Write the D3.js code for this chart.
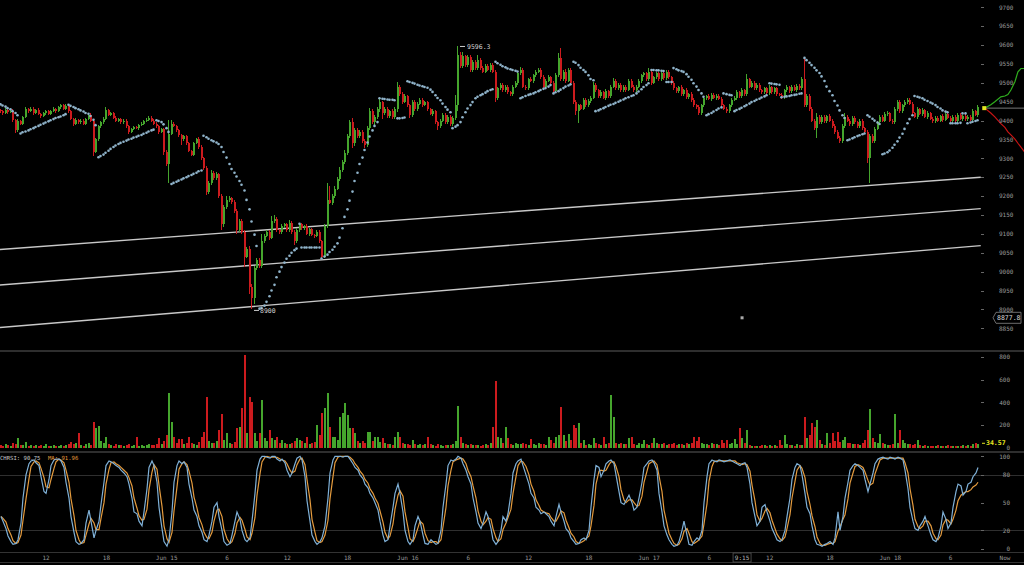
<!DOCTYPE html>
<html><head><meta charset="utf-8">
<script src="https://cdn.jsdelivr.net/npm/d3@7"></script>
<style>html,body{margin:0;padding:0;background:#000;overflow:hidden}svg{display:block}</style>
</head><body><svg id="c" width="1024" height="565"></svg>
<script>
const firstCandle = new Date(2020,5,14,7,30);
const candleMinutes = 15;
const openFirst = 9428;
const closes = [
9425,9420,9428,9422,9426,9402,9375,9398,9392,9410,
9430,9425,9432,9420,9428,9418,9412,9420,9425,9418,
9426,9430,9425,9435,9440,9432,9438,9425,9405,9392,
9402,9395,9400,9392,9405,9415,9398,9318,9350,9385,
9395,9405,9428,9415,9420,9408,9400,9404,9395,9400,
9385,9370,9378,9383,9380,9388,9392,9398,9402,9408,
9400,9392,9385,9370,9378,9318,9285,9365,9392,9385,
9375,9362,9350,9358,9340,9320,9310,9340,9352,9330,
9300,9275,9210,9235,9262,9248,9258,9200,9125,9170,
9190,9195,9185,9160,9110,9135,9105,9040,9060,8960,
8930,9010,9030,9015,9080,9095,9105,9090,9135,9140,
9110,9105,9120,9125,9110,9130,9105,9080,9110,9125,
9115,9120,9100,9112,9098,9095,9105,9080,9040,9120,
9190,9183,9200,9220,9245,9270,9290,9315,9360,9395,
9340,9375,9360,9370,9345,9335,9380,9425,9395,9410,
9430,9448,9420,9432,9412,9425,9410,9430,9490,9470,
9450,9465,9440,9415,9450,9430,9445,9455,9442,9448,
9430,9418,9425,9395,9385,9400,9415,9395,9410,9392,
9408,9440,9575,9545,9570,9548,9568,9535,9555,9540,
9560,9540,9530,9545,9535,9548,9530,9460,9485,9495,
9480,9490,9475,9470,9490,9500,9525,9535,9490,9485,
9510,9505,9520,9530,9535,9515,9490,9505,9515,9500,
9478,9520,9565,9510,9530,9505,9535,9500,9450,9425,
9440,9432,9455,9440,9452,9460,9495,9480,9465,9475,
9460,9478,9465,9490,9505,9485,9495,9480,9490,9482,
9505,9490,9480,9490,9505,9520,9525,9510,9530,9500,
9515,9525,9510,9525,9512,9530,9515,9500,9485,9478,
9488,9470,9480,9462,9470,9455,9440,9435,9420,9440,
9460,9465,9458,9468,9460,9466,9458,9440,9432,9425,
9440,9455,9460,9475,9465,9480,9470,9510,9490,9500,
9485,9495,9480,9475,9485,9472,9488,9475,9485,9470,
9468,9462,9480,9488,9478,9490,9482,9492,9485,9510,
9440,9465,9430,9400,9380,9410,9395,9410,9398,9412,
9400,9385,9370,9355,9345,9385,9410,9400,9390,9408,
9395,9385,9400,9380,9370,9300,9360,9345,9378,9395,
9410,9400,9418,9420,9400,9395,9430,9450,9425,9440,
9450,9455,9445,9420,9410,9430,9418,9428,9410,9420,
9405,9398,9408,9400,9412,9402,9418,9408,9400,9410,
9398,9415,9405,9412,9404,9410,9402,9425,9415,9435];
const wickHi = [
4,3,5,3,6,4,3,5,4,3, 5,3,4,4,3,5,3,4,3,4, 3,5,4,4,3,4,5,3,4,3, 4,3,3,4,3,2,4,3,5,4,
3,4,7,3,4,3,4,3,3,4, 3,4,3,4,3,4,3,3,4,4, 3,4,3,4,3,3,4,36,10,4, 3,4,3,5,3,4,3,4,3,4,
5,4,5,4,8,4,5,4,5,6, 10,5,4,6,5,4,5,6,5,8, 6,5,5,6,20,5,5,5,13,9, 5,4,5,4,4,8,5,4,5,3,
4,4,5,4,4,3,4,4,5,6, 44,38,5,6,5,6,5,6,5,6, 11,5,6,4,5,6,5,8,6,5, 5,11,4,4,5,4,5,5,12,5,
5,5,4,5,5,4,5,4,5,4, 5,4,5,4,5,4,5,4,4,5, 5,27,21.3,6,12,5,5,6,5,6, 14,5,5,4,6,5,5,5,5,5,
5,4,5,4,5,4,5,6,5,4, 4,5,4,5,3,4,5,4,5,4, 4,5,13,27,5,6,5,4,5,5, 5,4,5,4,5,4,7,5,4,5,
4,5,4,5,7,4,5,4,5,4, 5,4,5,4,5,4,5,4,8,4, 4,5,4,5,4,5,4,4,5,4, 4,5,4,5,4,5,4,4,5,4,
4,4,5,4,5,4,4,5,4,5, 4,5,4,5,4,5,4,13,4,5, 4,5,4,4,5,4,5,4,5,4, 4,5,4,5,4,5,4,5,4,5,
56,5,6,5,4,10,5,4,5,4, 5,4,5,4,4,5,9,4,5,4, 5,4,5,4,4,4,5,4,5,4, 4,5,4,5,4,4,5,4,5,4,
5,4,4,5,4,5,4,5,4,5, 4,5,4,5,4,5,4,5,4,5, 4,5,4,4,5,4,4,5,4,6];
const wickLo = [
4,5,3,4,3,5,9,4,3,4, 3,4,3,5,3,4,4,3,4,3, 4,3,4,3,5,3,4,4,3,5, 3,4,3,4,3,4,3,13,5,4,
4,3,4,3,4,3,4,4,3,4, 4,5,3,4,3,4,3,4,3,4, 4,3,4,5,3,8,5,51,4,3, 4,5,15,3,5,4,5,4,3,5,
5,5,7,4,5,4,5,5,15,6, 4,5,5,6,10,5,6,29,5,18, 30,15,5,6,5,5,4,5,4,5, 5,4,5,4,5,4,5,10,4,5,
4,5,4,5,4,5,4,5,5,5, 5,5,6,5,5,6,5,6,5,6, 12,6,5,6,5,7,5,6,5,6, 5,6,15,5,4,5,7,5,6,5,
5,4,5,7,5,4,5,4,5,4, 5,4,5,5,10,5,4,5,4,7, 5,6,15,5,6,5,5,6,5,5, 5,5,4,5,4,5,4,11,5,4,
5,4,5,4,5,4,5,4,5,4, 5,4,5,4,5,5,4,5,4,5, 5,4,5,5,4,5,4,5,5,11, 32,5,4,5,4,5,4,5,4,5,
4,5,4,5,4,5,4,5,4,5, 4,5,4,5,4,5,4,5,4,5, 4,5,4,5,4,5,4,5,4,5, 4,5,4,5,4,5,4,5,6,4,
4,5,4,5,4,5,4,5,4,5, 4,5,4,5,4,5,4,5,4,5, 4,5,4,5,4,5,4,5,4,5, 4,5,4,5,4,5,4,5,4,5,
5,4,5,5,6,25,5,4,5,4, 5,4,5,5,5,4,5,4,5,4, 4,5,4,5,4,11,66,4,5,4, 4,5,4,5,4,5,4,5,4,5,
4,5,4,5,4,5,4,5,4,5, 4,5,4,5,4,5,4,5,4,5, 4,5,4,5,4,5,4,5,4,5];
const volumes = [
25,18,30,22,15,40,35,88,28,20, 53,18,25,15,22,12,20,18,30,14, 16,22,12,18,25,15,20,30,47,35,
40,132,22,18,30,45,25,229,170,190, 60,40,97,35,28,18,30,22,25,15, 20,35,18,25,97,15,22,18,25,30,
20,28,35,82,30,60,112,479,229,97, 40,76,76,30,45,97,40,35,28,53, 97,141,443,60,45,40,55,156,297,70,
126,40,35,50,170,185,346,816,126,449, 405,126,60,126,420,82,60,156,82,70, 97,45,68,40,35,30,45,60,88,68,
60,40,97,35,40,50,200,112,302,346, 479,185,97,97,68,273,302,390,288,170, 170,126,55,40,60,45,141,141,60,97,
97,50,82,40,35,30,28,97,135,97, 40,35,30,25,68,30,22,35,28,30, 97,30,25,18,30,22,15,28,20,25,
30,55,370,97,40,30,25,30,22,20, 25,18,22,30,20,40,185,587,97,88, 45,185,82,30,25,40,35,30,40,35,
28,76,30,25,40,30,35,22,97,68, 40,97,112,361,112,60,118,68,200,170, 214,40,68,20,30,25,82,40,35,28,
97,30,45,464,273,40,30,45,35,30, 82,97,30,25,40,35,68,30,25,40, 88,45,35,30,40,25,30,35,40,28,
35,30,25,40,30,45,97,55,97,40, 30,35,25,40,30,35,28,68,40,68, 35,40,76,30,170,82,40,156,20,15,
18,15,12,20,25,18,22,15,20,18, 68,25,112,30,20,25,18,30,22,25, 273,82,112,214,185,244,68,35,25,126,
40,126,60,141,50,68,97,40,45,30, 35,30,25,40,68,156,341,82,50,40, 118,45,35,28,25,30,297,40,156,68,
40,30,35,25,30,68,25,18,22,15, 12,18,15,20,12,18,15,22,12,18, 15,12,18,20,15,22,18,30,40,34.57];
const sar = [
9443,9440,9437,9433,9430,9425,9420,9414,9366,9369, 9371,9374,9377,9380,9383,9386,9389,9392,9395,9398,
9401,9404,9407,9409,9411,9414,9417,9442,9439,9436, 9433,9430,9427,9424,9420,9418,9412,9402,9388,9303,
9306,9310,9315,9320,9325,9330,9334,9338,9341,9344, 9347,9350,9352,9355,9357,9360,9362,9365,9368,9371,
9374,9376,9401,9399,9396,9390,9380,9370,9232,9235, 9238,9241,9244,9247,9250,9253,9256,9259,9262,9266,
9268,9360,9356,9352,9348,9345,9342,9338,9330,9317, 9302,9285,9272,9262,9252,9240,9230,9215,9190,9165,
9133,9098,9068,8902,8904,8910,8920,8935,8950,8965, 8985,9000,9012,9024,9034,9042,9050,9057,9061,9127,
9064,9064,9064,9064,9064,9064,9064,9064,9035,9040, 9045,9052,9058,9066,9075,9090,9115,9145,9165,9188,
9212,9240,9262,9285,9302,9322,9342,9358,9374,9386, 9396,9459,9458,9457,9456,9455,9455,9454,9406,9406,
9407,9408,9504,9502,9500,9498,9495,9493,9491,9489, 9487,9482,9476,9467,9460,9454,9445,9436,9429,9422,
9380,9384,9388,9396,9409,9422,9432,9441,9449,9459, 9463,9467,9470,9474,9478,9481,9483,9556,9552,9548,
9544,9541,9538,9536,9534,9532,9530,9459,9462,9465, 9468,9470,9472,9475,9478,9481,9484,9486,9490,9494,
9472,9475,9478,9482,9486,9490,9493,9496,9556,9553, 9547,9540,9534,9529,9520,9510,9507,9425,9427,9430,
9433,9436,9439,9442,9444,9447,9450,9453,9456,9459, 9462,9465,9467,9472,9477,9483,9489,9494,9499,9534,
9534,9533,9533,9532,9531,9502,9502,9502,9539,9536, 9533,9531,9529,9523,9516,9508,9499,9490,9481,9472,
9463,9414,9417,9420,9424,9428,9432,9435,9472,9470, 9468,9467,9425,9428,9431,9434,9438,9441,9445,9449,
9452,9455,9458,9461,9464,9467,9499,9498,9497,9496, 9495,9462,9463,9464,9465,9467,9468,9469,9471,9472,
9566,9560,9553,9547,9540,9533,9526,9517,9505,9490, 9478,9467,9452,9440,9427,9414,9407,9348,9350,9353,
9356,9359,9361,9364,9366,9414,9410,9405,9400,9395, 9391,9311,9313,9316,9321,9328,9336,9345,9355,9365,
9378,9393,9404,9414,9465,9463,9461,9459,9455,9452, 9448,9445,9441,9436,9432,9427,9424,9422,9393,9393,
9393,9393,9394,9419,9419,9393,9395,9397,9399,9401];
const stochK = [
35,30,22,14,8,5,6,10,28,55, 80,92,95,96,93,90,78,62,60,75, 90,96,97,97,95,88,72,55,35,18,
8,5,6,10,28,42,30,12,20,30, 48,72,90,95,94,92,90,88,85,82, 78,70,55,40,38,30,25,40,65,88,
95,90,72,45,22,8,3,10,40,72, 90,95,92,94,88,70,55,42,35,25, 18,10,8,15,30,45,50,35,20,8,
4,6,15,30,40,32,20,10,8,12, 30,60,85,97,100,100,99,98,100,100, 97,95,97,93,85,78,82,92,98,100,
96,78,52,30,15,8,5,8,12,25, 55,82,96,100,100,100,99,100,100,97, 92,88,85,80,76,70,66,60,55,50,
42,30,15,8,10,25,45,60,70,60, 40,20,8,5,10,25,35,30,15,6, 5,10,8,5,6,20,45,70,90,96,
95,97,100,98,92,85,78,70,55,40, 28,22,28,40,35,22,10,5,8,20, 35,30,38,60,82,92,95,97,90,80,
70,60,55,45,42,38,40,38,35,30, 25,35,48,40,30,22,18,12,8,5, 6,10,12,10,20,45,75,90,88,78,
85,92,95,96,92,80,62,50,48,52, 58,50,42,45,55,72,88,92,95,96, 93,85,60,40,25,15,10,5,3,4,
8,20,30,15,5,4,8,12,10,20, 50,78,92,96,95,94,96,95,94,95, 96,95,93,92,90,92,93,88,70,50,
35,25,30,45,48,40,30,22,15,10, 8,10,20,35,55,75,88,92,90,80, 60,45,38,25,10,5,4,3,5,6,
8,5,12,40,20,35,55,72,85,90, 92,90,88,85,75,62,70,82,92,97, 98,99,98,97,99,98,97,99,98,96,
85,65,45,30,22,20,25,30,35,25, 15,10,8,12,25,40,32,22,28,45, 62,70,68,58,62,70,72,78,82,88];
const stochD = [
35,33,29,22,15,9,6,7,15,31, 54,76,89,94,95,93,87,77,67,66, 75,87,94,97,96,93,85,72,54,36,
20,10,6,7,15,27,33,28,21,21, 33,50,70,86,93,94,92,90,88,85, 82,77,68,55,44,36,31,32,43,64,
83,91,86,69,46,25,11,7,18,41, 67,86,92,94,91,84,71,56,44,34, 26,18,12,11,18,30,42,43,35,21,
11,6,8,17,28,34,31,21,13,10, 17,34,58,81,94,99,100,99,99,99, 99,97,96,95,92,85,82,84,91,97,
98,91,75,53,32,18,9,7,8,15, 31,54,78,93,99,100,100,100,100,99, 96,92,88,84,80,75,71,65,60,55,
49,41,29,18,11,14,27,43,58,63, 57,40,23,11,8,13,23,30,27,17, 9,7,8,8,6,10,24,45,68,85,
94,96,97,98,97,92,85,78,68,55, 41,30,26,30,34,32,22,12,8,11, 21,28,34,43,60,78,90,95,94,89,
80,70,62,53,47,42,40,39,38,34, 30,30,36,41,39,31,23,17,13,8, 6,7,9,11,14,25,47,70,84,85,
84,85,91,94,94,89,78,64,53,50, 53,53,50,46,47,57,72,84,92,94, 95,91,79,62,42,27,17,10,6,4,
5,11,19,22,17,8,6,8,10,14, 27,49,73,89,94,95,95,95,95,95, 95,95,95,93,92,91,92,91,84,69,
52,37,30,33,41,44,39,31,22,16, 11,9,13,22,37,55,73,85,90,87, 77,62,48,36,24,13,6,4,4,5,
6,6,8,19,24,32,37,54,71,82, 89,91,90,88,83,74,69,71,81,90, 96,98,98,98,98,98,98,98,98,98,
93,82,65,47,32,24,22,25,30,30, 25,17,11,10,15,26,32,31,27,32, 42,52,58,60,62,62,64,67,69,72];

const priceTicks = [9700,9650,9600,9550,9500,9450,9400,9350,9300,9250,9200,9150,9100,9050,9000,8950,8900,8850];
const volumeTicks = [800,600,400,200];
const stochTicks = [100,80,50,20,0];
const stochGrid = [80,20];
const timeTicks = [
  [new Date(2020,5,14,12),"12"],[new Date(2020,5,14,18),"18"],[new Date(2020,5,15,0),"Jun 15"],
  [new Date(2020,5,15,6),"6"],[new Date(2020,5,15,12),"12"],[new Date(2020,5,15,18),"18"],
  [new Date(2020,5,16,0),"Jun 16"],[new Date(2020,5,16,6),"6"],[new Date(2020,5,16,12),"12"],
  [new Date(2020,5,16,18),"18"],[new Date(2020,5,17,0),"Jun 17"],[new Date(2020,5,17,6),"6"],
  [new Date(2020,5,17,12),"12"],[new Date(2020,5,17,18),"18"],[new Date(2020,5,18,0),"Jun 18"],
  [new Date(2020,5,18,6),"6"]];
const trendStart = new Date(2020,5,14,7,0), trendEnd = new Date(2020,5,18,9,0);
const trendStartPrices = [9058, 8964, 8851];
const trendEndPrices = [9250, 9167, 9069];
const forecastHours = [81.4, 82.0, 82.4, 83.0, 83.4, 83.7, 84.0, 84.4, 84.7, 85.0, 85.6];
const forecastUp    = [9433, 9442, 9450, 9463, 9465, 9469, 9481, 9503, 9529, 9538, 9538];
const forecastDown  = [9433, 9420, 9410, 9392, 9382, 9370, 9362, 9351, 9340, 9330, 9308];
const lastPrice = 9433;
const highLabel = 9596.3, lowLabel = 8900;
const crossTime = new Date(2020,5,17,9,15), crossPrice = 8877.8;
const stochLabel = "CHRSI: 90.75", maLabel = "MA: 91.96";
const volLabel = "34.57";

const W = 1024, H = 565;
const GREEN = "#45a52d", RED = "#cc1b1e", SARC = "#8fb3ca", KCOL = "#7fb1d8", DCOL = "#e49b3e";
const AX = "#9a9a9a", FONT = "DejaVu Sans Mono";
const svg = d3.select("#c");
svg.append("rect").attr("width", W).attr("height", H).attr("fill", "#000");

const base = new Date(2020,5,15,0,0);
const x = d3.scaleTime().domain([base, new Date(2020,5,18,0,0)]).range([166.7, 890.3]);
const y = d3.scaleLinear().domain([8850, 9700]).range([328.3, 7.3]);
const yv = d3.scaleLinear().domain([0, 800]).range([447.7, 356.9]);
const ys = d3.scaleLinear().domain([0, 100]).range([549, 456.3]);
const hrs = h => new Date(+base + h * 3600000);

const data = closes.map((c, i) => {
  const o = i === 0 ? openFirst : closes[i - 1];
  return { t: new Date(+firstCandle + i * candleMinutes * 60000), o, c,
    h: Math.max(o, c) + (wickHi[i] || 0), l: Math.min(o, c) - (wickLo[i] || 0),
    v: volumes[i] || 0, s: sar[i], k: stochK[i], d: stochD[i] };
});
data.forEach(d => { d.cx = Math.round(x(d.t)); d.up = d.c >= d.o; });

// panel separators & grid
const sep = svg.append("g").attr("shape-rendering", "crispEdges");
sep.append("rect").attr("x", 0).attr("y", 350).attr("width", W).attr("height", 2).attr("fill", "#2e2e2e");
sep.append("rect").attr("x", 0).attr("y", 450.5).attr("width", W).attr("height", 2).attr("fill", "#2e2e2e");
sep.append("rect").attr("x", 0).attr("y", 552).attr("width", W).attr("height", 1).attr("fill", "#333");
sep.append("rect").attr("x", 0).attr("y", 562).attr("width", W).attr("height", 1).attr("fill", "#333");
stochGrid.forEach(v => sep.append("rect").attr("x", 0).attr("y", Math.round(ys(v))).attr("width", W).attr("height", 1).attr("fill", "#2f2f2f"));

// trend lines
const tl = svg.append("g");
trendStartPrices.forEach((p, i) => {
  tl.append("line").attr("x1", x(trendStart)).attr("y1", y(p)).attr("x2", x(trendEnd)).attr("y2", y(trendEndPrices[i]))
    .attr("stroke", "#c8c8c8").attr("stroke-width", 1.4);
});

// candles
const cg = svg.append("g").attr("shape-rendering", "crispEdges");
cg.selectAll(".w").data(data).join("rect")
  .attr("x", d => d.cx - 1).attr("width", 1)
  .attr("y", d => y(d.h)).attr("height", d => Math.max(1, y(d.l) - y(d.h)))
  .attr("fill", d => d.up ? GREEN : RED);
cg.selectAll(".b").data(data).join("rect")
  .attr("x", d => d.cx - 1).attr("width", 2)
  .attr("y", d => y(Math.max(d.o, d.c))).attr("height", d => Math.max(1, y(Math.min(d.o, d.c)) - y(Math.max(d.o, d.c))))
  .attr("fill", d => d.up ? GREEN : RED);

// SAR
svg.append("g").selectAll("circle").data(data.filter(d => d.s != null)).join("circle")
  .attr("cx", d => d.cx - 0.5).attr("cy", d => y(d.s)).attr("r", 1.3).attr("fill", SARC);

// high / low labels
const hi = data.reduce((a, b) => b.h > a.h ? b : a);
const lo = data.reduce((a, b) => b.l < a.l ? b : a);
const lab = svg.append("g").attr("font-family", FONT).attr("font-size", 6.5).attr("fill", "#d0d0d0");
lab.append("line").attr("x1", hi.cx + 2).attr("x2", hi.cx + 7).attr("y1", y(highLabel)).attr("y2", y(highLabel)).attr("stroke", "#ccc");
lab.append("text").attr("x", hi.cx + 9).attr("y", y(highLabel) + 2.3).text(highLabel.toFixed(1));
lab.append("line").attr("x1", lo.cx + 2).attr("x2", lo.cx + 7).attr("y1", y(lowLabel) + 1).attr("y2", y(lowLabel) + 1).attr("stroke", "#ccc");
lab.append("text").attr("x", lo.cx + 8).attr("y", y(lowLabel) + 3.3).text(lowLabel);

// forecast lines & last price
const fl = d3.line().x((d, i) => x(hrs(forecastHours[i]))).y(d => y(d));
svg.append("line").attr("x1", x(hrs(forecastHours[0]))).attr("x2", W).attr("y1", y(lastPrice)).attr("y2", y(lastPrice)).attr("stroke", "#777").attr("stroke-width", 1);
svg.append("path").attr("d", fl(forecastUp)).attr("fill", "none").attr("stroke", "#2fae1e").attr("stroke-width", 1.2);
svg.append("path").attr("d", fl(forecastDown)).attr("fill", "none").attr("stroke", "#c81414").attr("stroke-width", 1.2);
svg.append("rect").attr("x", x(hrs(forecastHours[0])) - 2.5).attr("y", y(lastPrice) - 2).attr("width", 4).attr("height", 4).attr("fill", "#e6e620");

// crosshair dot
svg.append("rect").attr("x", x(crossTime) - 1.5).attr("y", y(crossPrice) - 1.5).attr("width", 3).attr("height", 3).attr("fill", "#aaa");

// volume
svg.append("g").attr("shape-rendering", "crispEdges").selectAll("rect").data(data).join("rect")
  .attr("x", d => d.cx - 1).attr("width", 2)
  .attr("y", d => yv(d.v)).attr("height", d => Math.max(0.5, yv(0) - yv(d.v)))
  .attr("fill", d => d.up ? GREEN : RED);

// stoch rsi
const sl = key => d3.line().x(d => d.cx).y(d => ys(d[key]));
svg.append("path").attr("d", sl("d")(data)).attr("fill", "none").attr("stroke", DCOL).attr("stroke-width", 1.2);
svg.append("path").attr("d", sl("k")(data)).attr("fill", "none").attr("stroke", KCOL).attr("stroke-width", 1.2);

// right axes
const ax = svg.append("g").attr("font-family", FONT).attr("font-size", 6).attr("fill", AX);
const dash = yy => ax.append("rect").attr("x", 981).attr("y", Math.round(yy)).attr("width", 3).attr("height", 1).attr("fill", "#666");
priceTicks.forEach(p => { dash(y(p)); ax.append("text").attr("x", 999).attr("y", y(p) + 2.2).text(p); });
volumeTicks.forEach(v => { dash(yv(v)); ax.append("text").attr("x", 1010).attr("text-anchor", "end").attr("y", yv(v) + 2.2).text(v); });
ax.append("text").attr("x", 1010).attr("text-anchor", "end").attr("y", yv(0) + 2.5).text(0);
stochTicks.forEach(v => { dash(ys(v)); ax.append("text").attr("x", 1010).attr("text-anchor", "end").attr("y", ys(v) + 2.2).text(v); });

// volume value label
const lv = data[data.length - 1];
svg.append("rect").attr("x", 982).attr("y", yv(lv.v) - 1).attr("width", 3).attr("height", 1).attr("fill", "#e6e620");
svg.append("text").attr("x", 986).attr("y", yv(lv.v) + 1.5).attr("font-family", FONT).attr("font-size", 6.5).attr("font-weight", "bold").attr("fill", "#e6e620").text(volLabel);

// price tag at crosshair
const ty = y(crossPrice);
svg.append("path").attr("d", `M993,${ty} L996,${ty-5.5} L1021,${ty-5.5} L1021,${ty+5.5} L996,${ty+5.5} Z`)
  .attr("fill", "#000").attr("stroke", "#888").attr("stroke-width", 0.8);
svg.append("text").attr("x", 997).attr("y", ty + 2.3).attr("font-family", FONT).attr("font-size", 6.5).attr("fill", "#ddd").text(crossPrice.toFixed(1));

// time axis
const tx = svg.append("g").attr("font-family", FONT).attr("font-size", 6).attr("fill", AX).attr("text-anchor", "middle");
timeTicks.forEach(([t, s]) => tx.append("text").attr("x", x(t)).attr("y", 559.5).text(s));
tx.append("text").attr("x", 1005).attr("y", 559.5).text("Now");
const cxT = x(crossTime);
svg.append("rect").attr("x", cxT - 9).attr("y", 553).attr("width", 18).attr("height", 9).attr("fill", "#000").attr("stroke", "#555").attr("stroke-width", 0.8);
svg.append("text").attr("x", cxT).attr("y", 559.5).attr("text-anchor", "middle").attr("font-family", FONT).attr("font-size", 6).attr("fill", "#bbb").text("9:15");

// stoch label
const sg = svg.append("g").attr("font-family", FONT).attr("font-size", 5.6);
sg.append("text").attr("x", 0).attr("y", 459.5).attr("fill", "#c8c8c8").text(stochLabel);
sg.append("text").attr("x", 48).attr("y", 459.5).attr("fill", DCOL).text(maLabel);
</script></body></html>
